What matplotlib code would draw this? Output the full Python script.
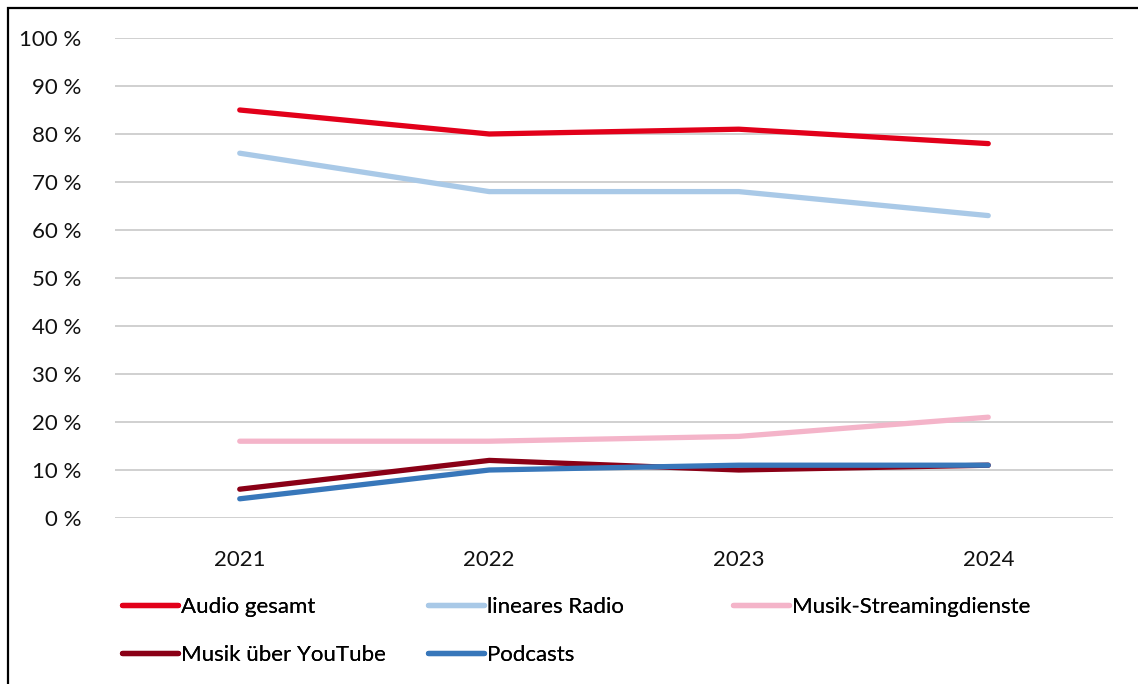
import matplotlib
matplotlib.use("Agg")
import matplotlib.pyplot as plt
from matplotlib.patches import Rectangle
from matplotlib.lines import Line2D

years = ["2021", "2022", "2023", "2024"]
audio_gesamt = [85, 80, 81, 78]
lineares_radio = [76, 68, 68, 63]
musik_streaming = [16, 16, 17, 21]
musik_youtube = [6, 12, 10, 11]
podcasts = [4, 10, 11, 11]

series = [
    ("Audio gesamt", audio_gesamt, "#E2001A"),
    ("lineares Radio", lineares_radio, "#A9C9E7"),
    ("Musik-Streamingdienste", musik_streaming, "#F4B4C9"),
    ("Musik über YouTube", musik_youtube, "#8A0016"),
    ("Podcasts", podcasts, "#3877BA"),
]
yticks = list(range(0, 101, 10))

plt.rcParams['font.family'] = ['Lato', 'DejaVu Sans']

W, H = 1138, 684
fig = plt.figure(figsize=(W / 100, H / 100), dpi=100)
ax = fig.add_axes([115 / W, 1 - 518 / H, (1113 - 115) / W, (518 - 38) / H])

x = list(range(len(years)))
for name, vals, col in series:
    ax.plot(x, vals, color=col, lw=3.8, solid_capstyle='round', solid_joinstyle='round', zorder=3)

ax.set_xlim(-0.5, 3.5)
ax.set_ylim(0, 100)
ax.set_yticks(yticks)
ax.set_yticklabels([f"{v} %" for v in yticks])
ax.set_xticks(x)
ax.set_xticklabels(years)
ax.tick_params(axis='both', length=0, labelsize=16, colors='#111111')
ax.tick_params(axis='y', pad=24)
ax.tick_params(axis='x', pad=23)
ax.grid(axis='y', color='#D0D0D0', lw=1.4)
ax.set_axisbelow(True)
for s in ax.spines.values():
    s.set_visible(False)

# legend: three columns placed separately
cols = [[0, 3], [1, 4], [2]]
col_x = [122, 428, 733]
for ci, idxs in enumerate(cols):
    handles = [Line2D([], [], color=series[i][2], lw=3.8, solid_capstyle='round') for i in idxs]
    labels = [series[i][0] for i in idxs]
    leg = fig.legend(handles, labels, loc='upper left',
                     bbox_to_anchor=(col_x[ci] / W, 1 - 597 / H),
                     frameon=False, fontsize=16, handlelength=2.5,
                     handletextpad=0.15, labelspacing=1.25, borderpad=0,
                     borderaxespad=0)
    fig.add_artist(leg)

# outer frame (only left and top edges visible)
fig.patches.append(Rectangle((8 / W, -0.5), 2, 1.5 - 8 / H, transform=fig.transFigure,
                             fill=False, edgecolor='black', lw=1.6, figure=fig))

fig.savefig("out.png", dpi=100)
